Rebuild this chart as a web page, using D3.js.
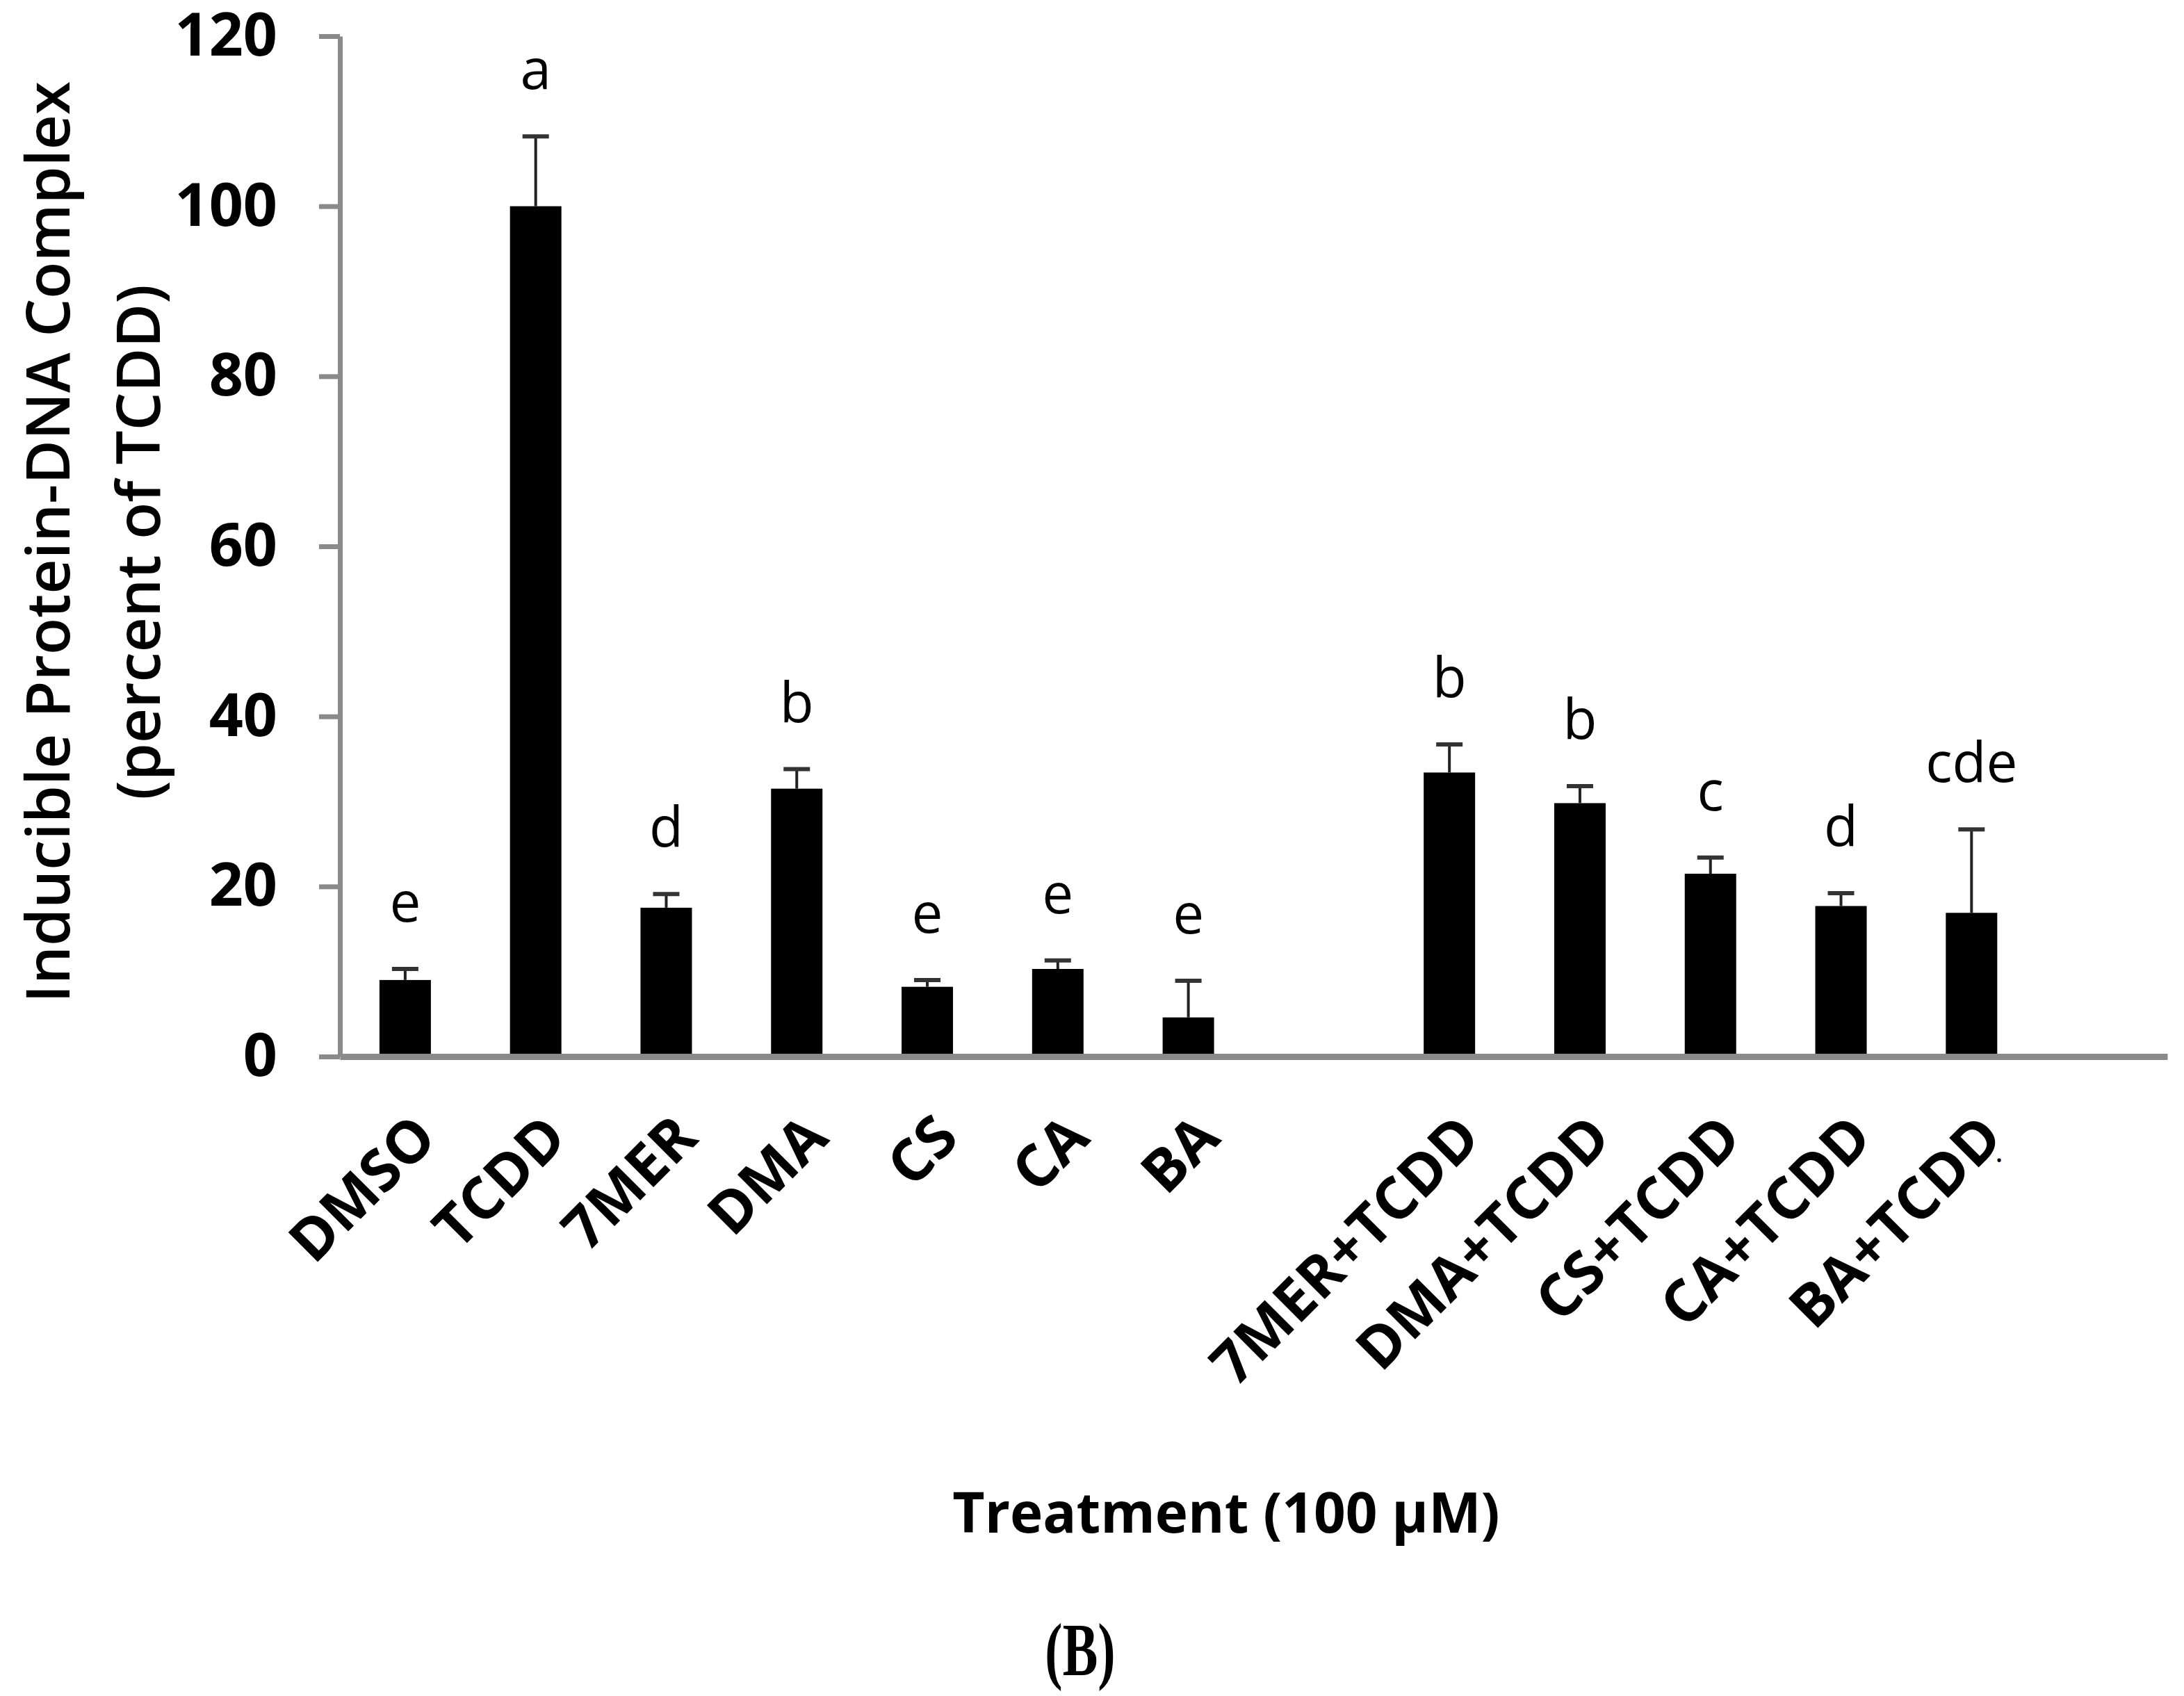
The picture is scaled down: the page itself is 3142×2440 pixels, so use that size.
<!DOCTYPE html>
<html>
<head>
<meta charset="utf-8">
<script src="https://cdn.jsdelivr.net/npm/d3@7"></script>
<style>
  body { margin: 0; background: #fff; }
  text { font-family: "Open Sans", "Noto Sans", sans-serif; }
</style>
</head>
<body>
<div id="container"></div>
<script>
const w = 3142;
const h = 2440;

// slots on the category axis; blank entries are empty positions
const treatments = ['DMSO', 'TCDD', '7MER', 'DMA', 'CS', 'CA', 'BA', ' ',
  '7MER+TCDD', 'DMA+TCDD', 'CS+TCDD', 'CA+TCDD', 'BA+TCDD', '  '];
const means = [9.0, 100, 17.5, 31.5, 8.2, 10.3, 4.6, null, 33.4, 29.8, 21.5, 17.7, 16.9, null];
const errs = [1.3, 8.2, 1.6, 2.3, 0.8, 1.0, 4.3, null, 3.3, 2.0, 1.9, 1.5, 9.8, null];
const letters = ['e', 'a', 'd', 'b', 'e', 'e', 'e', '', 'b', 'b', 'c', 'd', 'cde', ''];
const yTicks = [0, 20, 40, 60, 80, 100, 120];

const data = treatments.map((t, i) => ({
  name: t, mean: means[i], err: errs[i], letter: letters[i]
}));
const bars = data.filter(d => d.mean !== null);

const svg = d3.select('#container')
  .append('svg')
    .attr('width', w)
    .attr('height', h)
    .attr('viewBox', [0, 0, w, h]);

svg.append('rect')
  .attr('width', w)
  .attr('height', h)
  .attr('fill', '#fff');

const x = d3.scaleBand()
  .domain(treatments)
  .range([489, 3118])
  .paddingInner(0.606)
  .paddingOuter(0.303);

const y = d3.scaleLinear()
  .domain([0, 120])
  .range([1520, 52]);

const axisColor = '#8a8a8a';

// y axis
const yAxis = svg.append('g')
  .attr('transform', 'translate(489, 0)')
  .call(d3.axisLeft(y).tickValues(yTicks).tickSize(30).tickSizeOuter(0).tickPadding(60));
yAxis.select('.domain').attr('stroke', axisColor).attr('stroke-width', 7);
yAxis.selectAll('.tick line').attr('stroke', axisColor).attr('stroke-width', 7);
yAxis.selectAll('.tick text')
  .attr('fill', '#000')
  .style('font-size', '86px')
  .style('font-weight', 700);

// x axis
const xAxis = svg.append('g')
  .attr('transform', 'translate(0, 1520)')
  .call(d3.axisBottom(x).tickSize(0).tickSizeOuter(0).tickFormat(d => d.trim()));
xAxis.select('.domain').attr('stroke', axisColor).attr('stroke-width', 9);
xAxis.selectAll('.tick text')
  .attr('fill', '#000')
  .attr('text-anchor', 'end')
  .attr('transform', 'translate(28, 100) rotate(-45)')
  .attr('y', 0)
  .attr('dy', '0.35em')
  .style('font-size', '84px')
  .style('font-weight', 700);

// bars
svg.selectAll('rect.bar')
  .data(bars)
  .enter()
  .append('rect')
  .attr('class', 'bar')
  .attr('x', d => x(d.name))
  .attr('width', x.bandwidth())
  .attr('y', d => y(d.mean))
  .attr('height', d => y(0) - y(d.mean) - 4)
  .attr('fill', '#000');

// error bars (upper only)
const eb = svg.selectAll('g.err')
  .data(bars)
  .enter()
  .append('g')
  .attr('class', 'err')
  .attr('transform', d => 'translate(' + (x(d.name) + x.bandwidth() / 2) + ',0)');

eb.append('line')
  .attr('y1', d => y(d.mean))
  .attr('y2', d => y(d.mean + d.err))
  .attr('stroke', '#222')
  .attr('stroke-width', 4);

eb.append('line')
  .attr('x1', -19)
  .attr('x2', 19)
  .attr('y1', d => y(d.mean + d.err))
  .attr('y2', d => y(d.mean + d.err))
  .attr('stroke', '#333')
  .attr('stroke-width', 6);

// significance letters
svg.selectAll('text.letter')
  .data(bars)
  .enter()
  .append('text')
  .attr('class', 'letter')
  .attr('x', d => x(d.name) + x.bandwidth() / 2)
  .attr('y', d => y(d.mean + d.err) - 68)
  .attr('text-anchor', 'middle')
  .style('font-size', '80px')
  .text(d => d.letter);

// y axis title
const yTitle = svg.append('g')
  .attr('transform', 'translate(0, 780) rotate(-90)');
yTitle.append('text')
  .attr('x', 0)
  .attr('y', 70)
  .attr('dy', '0.35em')
  .attr('text-anchor', 'middle')
  .style('font-size', '87px')
  .style('font-weight', 600)
  .text('Inducible Protein-DNA Complex');
yTitle.append('text')
  .attr('x', 0)
  .attr('y', 200)
  .attr('dy', '0.35em')
  .attr('text-anchor', 'middle')
  .style('font-size', '87px')
  .style('font-weight', 600)
  .text('(percent of TCDD)');

// stray mark under the last label
svg.append('text')
  .attr('x', 2876)
  .attr('y', 1672)
  .attr('text-anchor', 'middle')
  .style('font-size', '44px')
  .text('.');

// x axis title
svg.append('text')
  .attr('x', 1764)
  .attr('y', 2205)
  .attr('text-anchor', 'middle')
  .style('font-size', '80px')
  .style('font-weight', 700)
  .text('Treatment (100 µM)');

// panel label
svg.append('text')
  .attr('transform', 'translate(1554, 2410) scale(0.95, 1.35)')
  .attr('text-anchor', 'middle')
  .style('font-family', '"Liberation Serif", serif')
  .style('font-size', '80px')
  .style('font-weight', 700)
  .text('(B)');
</script>
</body>
</html>
